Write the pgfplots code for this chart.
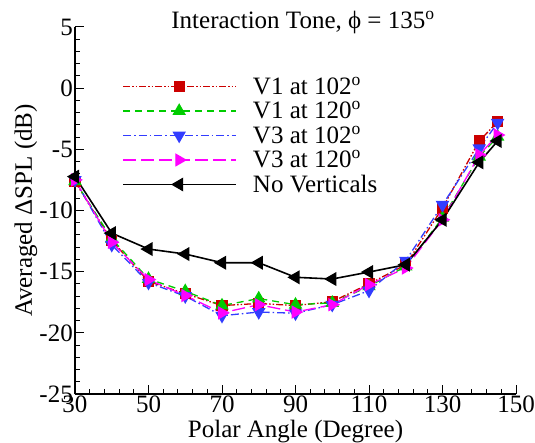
\documentclass[border=0pt]{standalone}
\usepackage{fontspec}
\setmainfont{Liberation Serif}
\usepackage{pgfplots}
\pgfplotsset{compat=1.18}
\definecolor{cred}{RGB}{204,0,0}
\definecolor{cgreen}{RGB}{0,204,0}
\definecolor{cblue}{RGB}{50,60,255}
\definecolor{cmag}{RGB}{255,0,255}
\begin{document}
\begin{tikzpicture}[font=\fontsize{25}{29}\selectfont]
\path[use as bounding box] (-75pt,-48pt) rectangle (460pt,394pt);
\begin{axis}[
  scale only axis, width=441pt, height=367pt,
  xmin=30, xmax=150, ymin=-25, ymax=5,
  axis x line*=bottom, axis y line*=left,
  axis line style={line width=1.3pt},
  tick align=inside,
  tick style={black, line width=1pt},
  major tick length=9pt, minor tick length=5pt,
  xtick={30,50,70,90,110,130,150},
  xticklabels={30,50,70,90,110,130,150},
  ytick={-25,-20,-15,-10,-5,0,5},
  yticklabels={-25,-20,-15,-10,-5,0,5},
  minor x tick num=4, minor y tick num=4,
  xticklabel style={inner sep=0pt, yshift=-2pt},
  yticklabel style={inner sep=2pt},
  xlabel={Polar Angle (Degree)},
  ylabel={Averaged ΔSPL (dB)},
  xlabel style={at={(axis description cs:0.5,-0.072)}, anchor=north, inner sep=0pt},
  ylabel style={at={(axis description cs:-0.085,0.5)}, anchor=south, inner sep=0pt},
  clip=false,
  legend style={draw=none, fill=none, at={(rel axis cs:0.107,0.865)}, anchor=north west,
    inner sep=0pt, row sep=5pt, column sep=0pt,
    nodes={inner sep=0pt, text height=17.5pt, text depth=2pt}},
  legend cell align=left,
  /tikz/every odd column/.append style={column sep=16pt},
  legend image code/.code={\draw[mark repeat=2,mark phase=2] plot coordinates {(0pt,0pt) (56pt,0pt) (113pt,0pt)};},
]
\addplot[cred, line width=1.3pt, dash pattern=on 7pt off 2pt on 1.5pt off 2pt on 1.5pt off 2pt,
  mark=square*, mark size=5pt, mark options={solid, fill=cred, draw=cred}]
  coordinates {(30,-7.64) (40,-12.45) (50,-15.8) (60,-16.8) (70,-17.77) (80,-17.6) (90,-17.77) (100,-17.45) (110,-16.0) (120,-14.43) (130,-9.8) (140,-4.32) (145,-2.74)};
\addlegendentry{V1 at 102\textsuperscript{o}}
\addplot[cgreen, line width=1.3pt, dash pattern=on 7pt off 5pt,
  mark=triangle*, mark size=6.5pt, mark options={solid, fill=cgreen, draw=cgreen}]
  coordinates {(30,-7.6) (40,-12.3) (50,-15.6) (60,-16.6) (70,-17.77) (80,-17.2) (90,-17.7) (100,-17.55) (110,-16.2) (120,-14.57) (130,-10.6) (140,-5.6) (145,-3.97)};
\addlegendentry{V1 at 120\textsuperscript{o}}
\addplot[cblue, line width=1.3pt, dash pattern=on 8pt off 3pt on 1.5pt off 3pt,
  mark=triangle*, mark size=6.5pt, mark options={solid, rotate=180, fill=cblue, draw=cblue}]
  coordinates {(30,-7.5) (40,-12.8) (50,-15.9) (60,-17.0) (70,-18.6) (80,-18.3) (90,-18.4) (100,-17.7) (110,-16.55) (120,-14.1) (130,-9.54) (140,-4.92) (145,-2.83)};
\addlegendentry{V3 at 102\textsuperscript{o}}
\addplot[cmag, line width=1.3pt, dash pattern=on 13pt off 5pt,
  mark=triangle*, mark size=6.5pt, mark options={solid, rotate=-90, fill=cmag, draw=cmag}]
  coordinates {(30,-7.5) (40,-12.6) (50,-15.65) (60,-16.95) (70,-18.37) (80,-17.7) (90,-18.3) (100,-17.7) (110,-16.06) (120,-14.7) (130,-10.76) (140,-5.46) (145,-3.83)};
\addlegendentry{V3 at 120\textsuperscript{o}}
\addplot[black, line width=1.6pt,
  mark=triangle*, mark size=6.5pt, mark options={solid, rotate=90, fill=black, draw=black}]
  coordinates {(30,-7.23) (40,-11.85) (50,-13.15) (60,-13.56) (70,-14.27) (80,-14.27) (90,-15.46) (100,-15.6) (110,-15.03) (120,-14.43) (130,-10.76) (140,-6.06) (145,-4.32)};
\addlegendentry{No Verticals}
\node[anchor=base, inner sep=0pt] at (rel axis cs:0.517,1) [yshift=-2pt] {Interaction Tone, ϕ = 135\textsuperscript{o}};
\end{axis}
\end{tikzpicture}
\end{document}
